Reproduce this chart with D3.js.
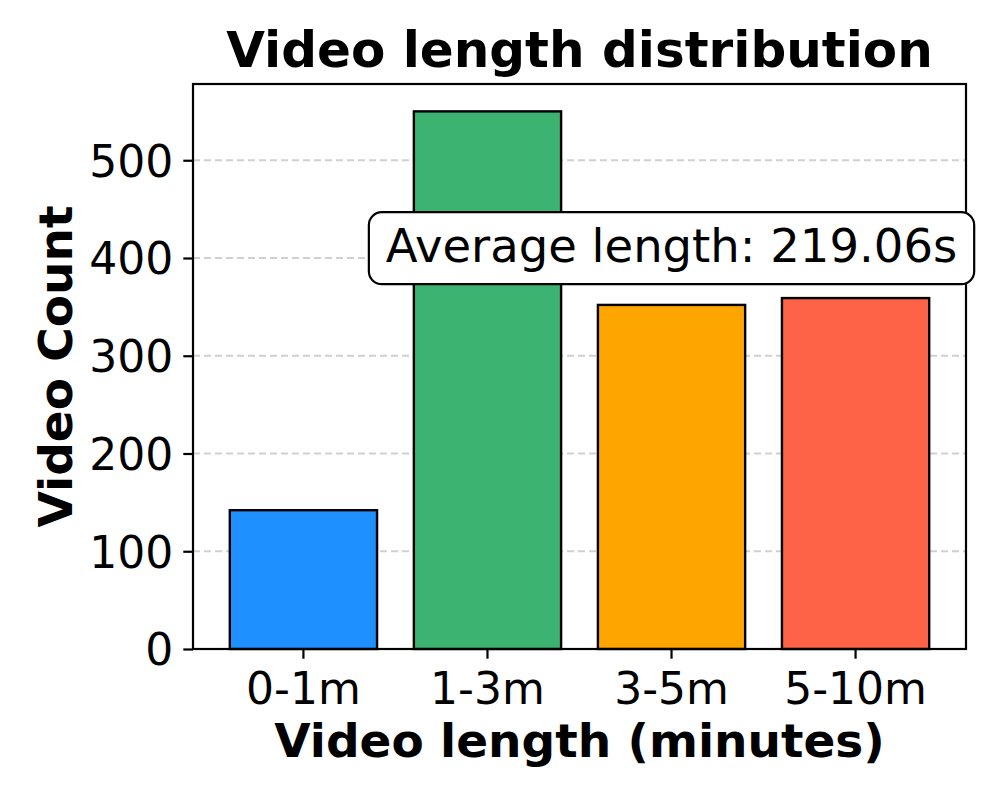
<!DOCTYPE html>
<html>
<head>
<meta charset="utf-8">
<script src="https://cdn.jsdelivr.net/npm/d3@7"></script>
<style>
  body { margin: 0; background: #fff; }
  svg { display: block; font-family: "DejaVu Sans", sans-serif; }
</style>
</head>
<body>
<div id="chart"></div>
<script>
/* Video length distribution — bar chart with average annotation */

const categories = ["0-1m", "1-3m", "3-5m", "5-10m"];
const counts = [142, 550, 352, 359];
const barColors = ["#1E90FF", "#3CB371", "#FFA500", "#FF6347"];
const yTicks = [0, 100, 200, 300, 400, 500];
const averageLabel = "Average length: 219.06s";
const annotAt = { category: "3-5m", value: 410 };

const width = 996, height = 797;
const margin = { top: 84, right: 30, bottom: 148, left: 193 };
const plotW = width - margin.left - margin.right;
const plotH = height - margin.top - margin.bottom;

const svg = d3.select("#chart").append("svg")
  .attr("width", width)
  .attr("height", height);

const g = svg.append("g").attr("transform", `translate(${margin.left},${margin.top})`);

const x = d3.scaleBand()
  .domain(categories)
  .range([0, plotW])
  .paddingInner(0.2)
  .paddingOuter(0.2);

const y = d3.scaleLinear()
  .domain([0, 578])
  .range([plotH, 0]);

// grid lines
g.selectAll(".grid")
  .data(yTicks.filter(t => t > 0))
  .join("line")
  .attr("class", "grid")
  .attr("x1", 0).attr("x2", plotW)
  .attr("y1", d => y(d)).attr("y2", d => y(d))
  .attr("stroke", "#b0b0b0")
  .attr("stroke-opacity", 0.6)
  .attr("stroke-width", 2)
  .attr("stroke-dasharray", "7,4");

// bars
g.selectAll(".bar")
  .data(categories)
  .join("rect")
  .attr("class", "bar")
  .attr("x", d => x(d))
  .attr("y", (d, i) => y(counts[i]))
  .attr("width", x.bandwidth())
  .attr("height", (d, i) => plotH - y(counts[i]))
  .attr("fill", (d, i) => barColors[i])
  .attr("stroke", "#000")
  .attr("stroke-width", 2.4);

// frame
g.append("rect")
  .attr("x", 0).attr("y", 0)
  .attr("width", plotW).attr("height", plotH)
  .attr("fill", "none")
  .attr("stroke", "#000")
  .attr("stroke-width", 2.2);

// axes
const yAxis = g.append("g")
  .call(d3.axisLeft(y).tickValues(yTicks).tickSize(9.7).tickPadding(10));
const xAxis = g.append("g")
  .attr("transform", `translate(0,${plotH})`)
  .call(d3.axisBottom(x).tickSize(9.7).tickPadding(14));

[xAxis, yAxis].forEach(ax => {
  ax.select(".domain").remove();
  ax.selectAll(".tick line").attr("stroke", "#000").attr("stroke-width", 2.2);
  ax.selectAll(".tick text")
    .attr("fill", "#000")
    .attr("font-size", 44)
    .attr("font-family", "DejaVu Sans");
});
yAxis.selectAll(".tick text").attr("dy", "0.36em");

// annotation box
const annot = g.append("g")
  .attr("transform", `translate(${x(annotAt.category) + x.bandwidth() / 2},${y(annotAt.value)})`);
const annotText = annot.append("text")
  .attr("text-anchor", "middle")
  .attr("dy", "0.3em")
  .attr("font-size", 46.5)
  .attr("fill", "#000")
  .text(averageLabel);
const tw = annotText.node().getComputedTextLength();
const boxW = tw + 34, boxH = 72;
annot.insert("rect", "text")
  .attr("x", -boxW / 2)
  .attr("y", -boxH / 2)
  .attr("width", boxW)
  .attr("height", boxH)
  .attr("rx", 13).attr("ry", 13)
  .attr("fill", "#fff")
  .attr("stroke", "#000")
  .attr("stroke-width", 2.2);

// title and axis labels
svg.append("text")
  .attr("x", margin.left + plotW / 2)
  .attr("y", 67)
  .attr("text-anchor", "middle")
  .attr("font-size", 50)
  .attr("font-weight", "bold")
  .text("Video length distribution");

svg.append("text")
  .attr("x", margin.left + plotW / 2)
  .attr("y", 757)
  .attr("text-anchor", "middle")
  .attr("font-size", 47)
  .attr("font-weight", "bold")
  .text("Video length (minutes)");

svg.append("text")
  .attr("transform", `translate(72,${margin.top + plotH / 2}) rotate(-90)`)
  .attr("text-anchor", "middle")
  .attr("font-size", 47)
  .attr("font-weight", "bold")
  .text("Video Count");
</script>
</body>
</html>
